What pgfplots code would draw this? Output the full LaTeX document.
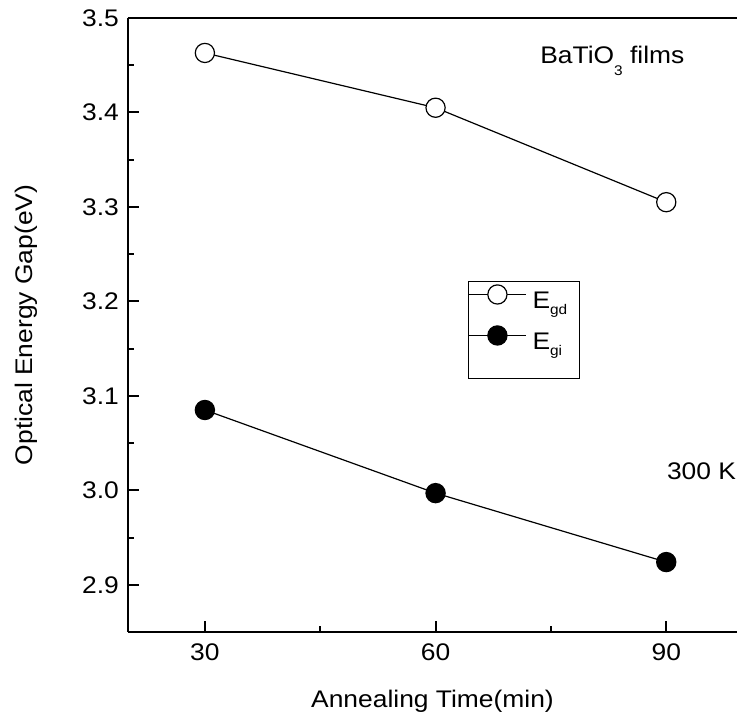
\documentclass[border=0pt]{standalone}
\usepackage{pgfplots}
\pgfplotsset{compat=1.18}
\usepackage{fontspec}
\setmainfont{Liberation Sans}[FakeStretch=1.1]

\begin{document}
\begin{tikzpicture}[font=\fontsize{12}{14}\selectfont]
\begin{axis}[
  scale only axis,
  width=304.5pt, height=307pt,
  xmin=20, xmax=99.2,
  ymin=2.85, ymax=3.5,
  axis lines*=left,
  axis line style={line width=1pt, black},
  xtick={30,60,90},
  ytick={2.9,3.0,3.1,3.2,3.3,3.4,3.5},
  minor x tick num=1,
  minor y tick num=1,
  tick align=inside,
  major tick length=5.5pt,
  minor tick length=3pt,
  tick style={line width=1pt, black},
  /pgf/number format/assume math mode=true,
  y tick label style={/pgf/number format/fixed,
    /pgf/number format/fixed zerofill,
    /pgf/number format/precision=1, xshift=-1pt},
  x tick label style={yshift=-2.5pt},
  xlabel={Annealing Time(min)},
  ylabel={Optical Energy Gap(eV)},
  every axis x label/.style={at={(axis description cs:0.5,0)}, anchor=base, yshift=-38pt},
  every axis y label/.style={at={(axis description cs:-0.156,0.5)}, rotate=90, anchor=base},
  legend image code/.code={
    \draw[mark repeat=2, mark phase=2, #1]
      plot coordinates {(0pt,3.75pt) (14.25pt,3.75pt) (28.5pt,3.75pt)};
  },
  legend cell align=left,
  legend style={
    at={(0.558,0.5717)}, anchor=north west,
    draw=black, line width=0.5pt,
    font=\fontsize{12}{14}\selectfont,
    inner xsep=0pt, inner ysep=0pt,
    column sep=3pt, row sep=0pt,
    nodes={inner sep=0pt},
  },
  entry/.style={text height=13.5pt, text depth=7pt, text width=23.5pt, align=left},
]
\coordinate (sw) at (rel axis cs:0,0);
\coordinate (ne) at (rel axis cs:1,1);
\draw[line width=1pt] (rel axis cs:0,1) -- (rel axis cs:1,1);

% direct gap
\addplot[black, line width=0.6pt, mark=*, mark size=4.8pt,
  mark options={fill=white, draw=black, line width=0.6pt}]
  coordinates {(30,3.463) (60,3.405) (90,3.305)};
\addlegendentry[text height=13.5pt, text depth=7pt, text width=23.5pt, align=left]
  {E\raisebox{-3.2pt}{\fontsize{7}{7}\selectfont gd}}

% indirect gap
\addplot[black, line width=0.6pt, mark=*, mark size=4.8pt,
  mark options={fill=black, draw=black}]
  coordinates {(30,3.085) (60,2.997) (90,2.924)};
\addlegendentry[text height=13.5pt, text depth=7pt, text width=23.5pt, align=left]
  {E\raisebox{-3.2pt}{\fontsize{7}{7}\selectfont gi}}

\addlegendimage{empty legend}
\addlegendentry[text height=0pt, text depth=7.5pt]{}

\node[anchor=base west, inner sep=0pt] at (rel axis cs:0.6765,0.926)
  {BaTiO\raisebox{-5.8pt}{\fontsize{7}{7}\selectfont 3} films};
\node[anchor=base west, inner sep=0pt] at (rel axis cs:0.8845,0.2487) {300 K};
\end{axis}
\pgfresetboundingbox
\path[use as bounding box] ([xshift=-64pt,yshift=-42pt]sw) rectangle ([yshift=9pt]ne);
\end{tikzpicture}
\end{document}
